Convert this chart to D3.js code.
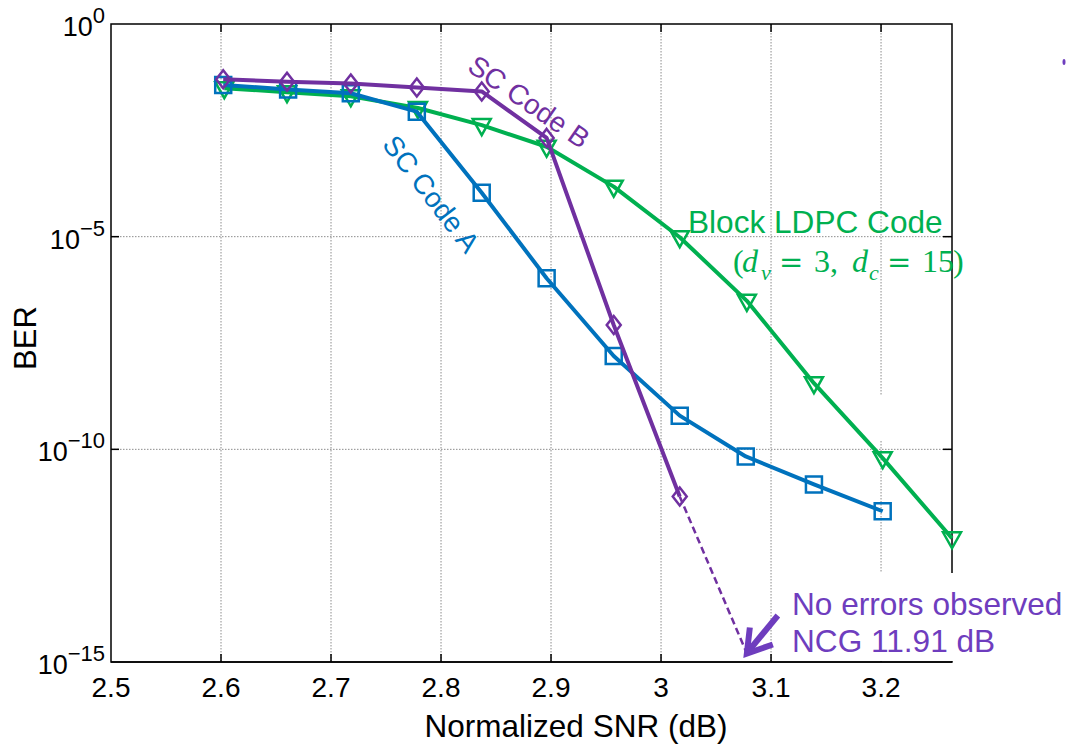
<!DOCTYPE html>
<html lang="en">
<head>
<meta charset="UTF-8">
<title>BER vs normalized SNR</title>
<script src="https://d3js.org/d3.v7.min.js"></script>
<style>
  body { margin: 0; background: #fff; }
  svg text { font-family: "Liberation Sans", Arial, sans-serif; }
</style>
</head>
<body>
<svg class="chart"></svg>
<script>
// values (SNR in dB, BER)
const snrA = [2.602, 2.661, 2.718, 2.778, 2.837, 2.896, 2.957, 3.017, 3.077, 3.139, 3.2015];
const berA = [3.7e-2, 2.9e-2, 2.35e-2, 8.7e-3, 1.08e-4, 1.05e-6, 1.56e-8, 6.2e-10, 6.8e-11, 1.5e-11, 3.5e-12];

const snrB = [2.602, 2.660, 2.718, 2.778, 2.837, 2.896, 2.957, 3.017];
const berB = [5.0e-2, 4.4e-2, 4.0e-2, 3.2e-2, 2.6e-2, 2.1e-3, 8.4e-8, 7.8e-12];

const snrLdpc = [2.603, 2.660, 2.718, 2.779, 2.837, 2.896, 2.957, 3.017, 3.078, 3.139, 3.2015, 3.2645];
const berLdpc = [3.1e-2, 2.5e-2, 2.0e-2, 1.06e-2, 4.2e-3, 1.3e-3, 1.5e-4, 9.7e-6, 3.1e-7, 3.6e-9, 6.2e-11, 8.1e-13];

// dashed extrapolation of code B down to "no errors"
const snrNoErr = [3.017, 3.078];
const berNoErr = [7.8e-12, 1.6e-15];

const xTicks = [2.5, 2.6, 2.7, 2.8, 2.9, 3.0, 3.1, 3.2];
const xTickLabels = ["2.5", "2.6", "2.7", "2.8", "2.9", "3", "3.1", "3.2"];
const yTicks = [1, 1e-5, 1e-10, 1e-15];
const yTickExps = ["0", "\u22125", "\u221210", "\u221215"];

const blue = "#0072BD", purple = "#7030A0", green = "#00B050", note = "#6E3DBE";

const svgW = 1066, svgH = 744;
const L = 111, R = 952, T = 24, B = 662;

const svg = d3.select(".chart").attr("width", svgW).attr("height", svgH)
    .attr("viewBox", `0 0 ${svgW} ${svgH}`);

const x = d3.scaleLinear().domain([2.5, 3.2645]).range([L, R]);
const y = d3.scaleLog().domain([1e-15, 1]).range([B, T]);

// grid
const grid = svg.append("g").attr("stroke", "#8c8c8c").attr("stroke-width", 1)
    .attr("stroke-dasharray", "1.5,1.5");
grid.selectAll(".gx").data(xTicks.slice(1)).join("line")
    .attr("x1", d => x(d)).attr("x2", d => x(d)).attr("y1", T).attr("y2", B);
grid.selectAll(".gy").data([1e-5, 1e-10]).join("line")
    .attr("x1", L).attr("x2", R).attr("y1", d => y(d)).attr("y2", d => y(d));
// small break in the 3.2 grid line seen in the figure
svg.append("rect").attr("x", x(3.2) - 2).attr("y", y(Math.pow(10, -8.74))).attr("width", 4)
    .attr("height", y(Math.pow(10, -9.8)) - y(Math.pow(10, -8.74))).attr("fill", "#fff");

// box
svg.append("rect").attr("x", L).attr("y", T).attr("width", R - L).attr("height", B - T)
    .attr("fill", "none").attr("stroke", "#000").attr("stroke-width", 1.5);

// inward ticks on all sides
const tk = svg.append("g").attr("stroke", "#000").attr("stroke-width", 1.5);
tk.selectAll(".tb").data(xTicks.slice(1)).join("line")
    .attr("x1", d => x(d)).attr("x2", d => x(d)).attr("y1", B).attr("y2", B - 8);
tk.selectAll(".tt").data(xTicks.slice(1)).join("line")
    .attr("x1", d => x(d)).attr("x2", d => x(d)).attr("y1", T).attr("y2", T + 8);
tk.selectAll(".tl").data(yTicks.slice(1, 3)).join("line")
    .attr("x1", L).attr("x2", L + 8).attr("y1", d => y(d)).attr("y2", d => y(d));
tk.selectAll(".tr").data(yTicks.slice(1, 3)).join("line")
    .attr("x1", R).attr("x2", R - 9).attr("y1", d => y(d)).attr("y2", d => y(d));

// x tick labels
svg.selectAll(".xl").data(xTicks).join("text")
    .attr("x", d => x(d)).attr("y", B + 35)
    .attr("text-anchor", "middle").attr("font-size", 28)
    .text((d, i) => xTickLabels[i]);

// y tick labels 10^n
const yl = svg.selectAll(".yl").data(yTicks).join("text")
    .attr("x", 105).attr("y", d => y(d) + 12)
    .attr("text-anchor", "end").attr("font-size", 27);
yl.append("tspan").text("10");
yl.append("tspan").attr("dy", -13).attr("font-size", 22).text((d, i) => yTickExps[i]);

// axis titles
svg.append("text").attr("x", 576).attr("y", 737).attr("text-anchor", "middle")
    .attr("font-size", 31.5).text("Normalized SNR (dB)");
svg.append("text").attr("transform", "translate(36,338) rotate(-90)")
    .attr("text-anchor", "middle").attr("font-size", 31).text("BER");

// series
const line = d3.line().x(d => x(d[0])).y(d => y(d[1]));
function series(xs, ys, color, shape) {
    const pts = xs.map((v, i) => [v, ys[i]]);
    const g = svg.append("g");
    g.append("path").attr("d", line(pts)).attr("fill", "none")
        .attr("stroke", color).attr("stroke-width", 4).attr("stroke-linejoin", "round");
    g.selectAll("path.m").data(pts).join("path").attr("class", "m")
        .attr("transform", d => `translate(${x(d[0])},${y(d[1])})`)
        .attr("d", shape).attr("fill", "none").attr("stroke", color).attr("stroke-width", 2.5);
}
const square = "M-8,-8H8V8H-8Z";
const diamond = "M0,-9L7,0L0,9L-7,0Z";
const triDown = "M-9,-6H9L0,10Z";

series(snrLdpc, berLdpc, green, triDown);
series(snrA, berA, blue, square);
series(snrB, berB, purple, diamond);

svg.append("path").attr("d", line(snrNoErr.map((v, i) => [v, berNoErr[i]])))
    .attr("fill", "none").attr("stroke", purple).attr("stroke-width", 2.5)
    .attr("stroke-dasharray", "7,4");

// annotation box (hides grid / border behind it)
svg.append("rect").attr("x", 785).attr("y", 573).attr("width", svgW - 785).attr("height", B - 1 - 573)
    .attr("fill", "#fff");
svg.append("line").attr("x1", L).attr("x2", R).attr("y1", B).attr("y2", B)
    .attr("stroke", "#000").attr("stroke-width", 1.5);

// arrow to the no-error point
const tipX = x(3.078), tipY = y(Math.pow(10, -14.8));
svg.append("line").attr("x1", tipX + 31).attr("y1", tipY - 38).attr("x2", tipX + 3).attr("y2", tipY - 4)
    .attr("stroke", note).attr("stroke-width", 6);
svg.append("path").attr("d", `M${tipX + 3},${tipY - 26}L${tipX},${tipY}L${tipX + 26},${tipY - 9}`)
    .attr("fill", "none").attr("stroke", note).attr("stroke-width", 6).attr("stroke-linejoin", "miter");

svg.append("text").attr("x", 792).attr("y", 615).attr("font-size", 31.6).attr("fill", note)
    .text("No errors observed");
svg.append("text").attr("x", 792).attr("y", 652).attr("font-size", 31.6).attr("fill", note)
    .text("NCG 11.91 dB");

// curve labels
svg.append("text").attr("transform", "translate(431,194) rotate(52.5)")
    .attr("text-anchor", "middle").attr("dominant-baseline", "central")
    .attr("font-size", 28).attr("fill", blue).text("SC Code A");
svg.append("text").attr("transform", "translate(529,102) rotate(34.7)")
    .attr("text-anchor", "middle").attr("dominant-baseline", "central")
    .attr("font-size", 28).attr("fill", purple).text("SC Code B");

svg.append("text").attr("x", 688).attr("y", 233).attr("font-size", 31.6).attr("fill", green)
    .text("Block LDPC Code");

// (d_v = 3, d_c = 15) in math style
const math = svg.append("text").attr("y", 272).attr("fill", green).attr("font-size", 32)
    .style("font-family", "'Liberation Serif', 'DejaVu Serif', serif");
const parts = [
    { t: "(", x: 733 }, { t: "d", x: 742, it: true }, { t: "v", x: 761, it: true, sub: true },
    { t: "=", x: 779, wide: true }, { t: "3", x: 814 }, { t: ",", x: 830 },
    { t: "d", x: 852, it: true }, { t: "c", x: 869, it: true, sub: true },
    { t: "=", x: 887, wide: true }, { t: "15", x: 922 }, { t: ")", x: 953 }
];
parts.forEach(p => {
    const ts = math.append("tspan").attr("x", p.x).attr("y", p.sub ? 280 : 272)
        .attr("font-size", p.sub ? 22 : 32)
        .attr("font-style", p.it ? "italic" : "normal")
        .text(p.t);
    if (p.wide) ts.style("font-family", "'DejaVu Serif', serif").attr("font-size", 29);
});

// stray mark at the right edge of the original figure
svg.append("ellipse").attr("cx", 1064).attr("cy", 62).attr("rx", 1.5).attr("ry", 3).attr("fill", note);
</script>
</body>
</html>
